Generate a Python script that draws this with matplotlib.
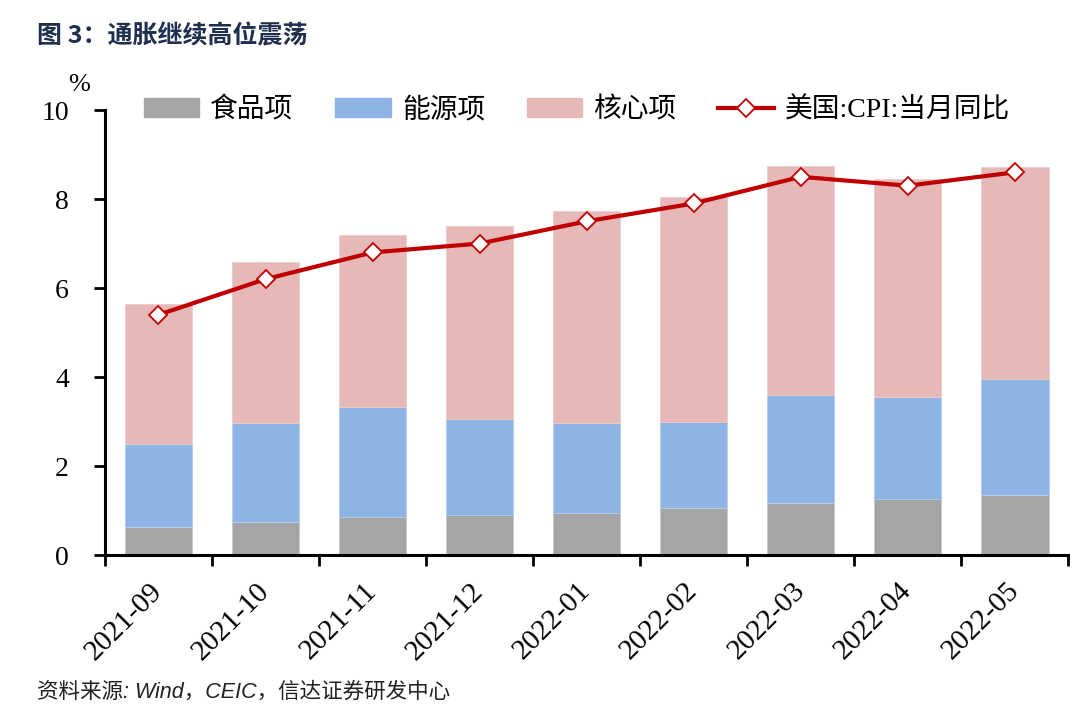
import numpy as np
import matplotlib.pyplot as plt
from matplotlib.lines import Line2D
from matplotlib.patches import Patch

months = ['2021-09', '2021-10', '2021-11', '2021-12', '2022-01',
          '2022-02', '2022-03', '2022-04', '2022-05']
food = [0.63, 0.74, 0.85, 0.90, 0.94, 1.06, 1.17, 1.26, 1.35]
energy = [1.86, 2.23, 2.48, 2.16, 2.03, 1.93, 2.43, 2.29, 2.61]
core = [3.15, 3.61, 3.86, 4.33, 4.76, 5.05, 5.14, 4.90, 4.76]
cpi = [5.4, 6.2, 6.8, 7.0, 7.5, 7.9, 8.5, 8.3, 8.6]

CJK = ['Noto Sans CJK SC', 'DejaVu Sans']
NUM = ['Liberation Serif', 'Noto Sans CJK SC']


def main():
    fig = plt.figure(figsize=(10.8, 7.24), dpi=100)
    ax = fig.add_axes([0.0972, 0.2334, 0.892, 0.6146])

    x = np.arange(len(months))
    food_a = np.array(food)
    energy_a = np.array(energy)
    core_a = np.array(core)

    w = 0.63
    ax.bar(x, food_a, w, color='#A5A5A5', edgecolor='#C8C8C8', linewidth=0.6, zorder=2)
    ax.bar(x, energy_a, w, bottom=food_a, color='#8EB4E3', edgecolor='#B4CDEE', linewidth=0.6, zorder=2)
    ax.bar(x, core_a, w, bottom=food_a + energy_a, color='#E6B9B8', edgecolor='#EDCCCB', linewidth=0.6, zorder=2)
    ax.plot(x, cpi, color='#C00000', lw=3, marker='D', ms=9, mfc='white',
            mec='#C00000', mew=1.3, zorder=3)

    ax.set_xlim(-0.5, len(months) - 0.5)
    ax.set_ylim(0, 10)
    ax.set_yticks(range(0, 11, 2))
    ax.set_yticklabels([str(v) for v in range(0, 11, 2)], fontfamily=NUM, fontsize=20)

    # ticks sit on the category boundaries, labels sit under the bars
    ax.set_xticks(np.arange(-0.5, len(months), 1.0))
    ax.set_xticklabels([])
    ax.set_xticks(x, minor=True)
    ax.set_xticklabels(months, minor=True, rotation=45, ha='right', va='center',
                       rotation_mode='anchor', fontfamily=NUM, fontsize=21)
    ax.tick_params(axis='x', which='minor', length=0, pad=23)
    ax.tick_params(axis='both', which='major', direction='out', length=8, width=2)
    ax.tick_params(axis='y', pad=18)

    for s in ['top', 'right']:
        ax.spines[s].set_visible(False)
    for s in ['left', 'bottom']:
        ax.spines[s].set_linewidth(2.2)

    handles = [
        Patch(color='#A5A5A5'),
        Patch(color='#8EB4E3'),
        Patch(color='#E6B9B8'),
        Line2D([], [], color='#C00000', lw=3, marker='D', ms=9, mfc='white',
               mec='#C00000', mew=1.3),
    ]
    labels = ['食品项', '能源项', '核心项', '美国:CPI:当月同比']
    ax.legend(handles, labels, loc='center', bbox_to_anchor=(0.49, 1.0), ncol=4,
              frameon=False, prop={'family': NUM, 'size': 20},
              handlelength=2.0, handleheight=0.7, columnspacing=1.5, handletextpad=0.4)

    fig.text(0.063, 0.874, '%', fontfamily=NUM, fontsize=19)
    fig.text(0.034, 0.94, '图 3：通胀继续高位震荡', fontfamily=CJK, fontsize=18,
             fontweight='bold', color='#1F2F4F')
    fig.text(0.034, 0.036, '资料来源: Wind，CEIC，信达证券研发中心',
             fontfamily=['Liberation Sans', 'Noto Sans CJK SC'], fontsize=15.5,
             style='italic', color='#222222')

    fig.savefig('out.png', dpi=100)


if __name__ == '__main__':
    main()
